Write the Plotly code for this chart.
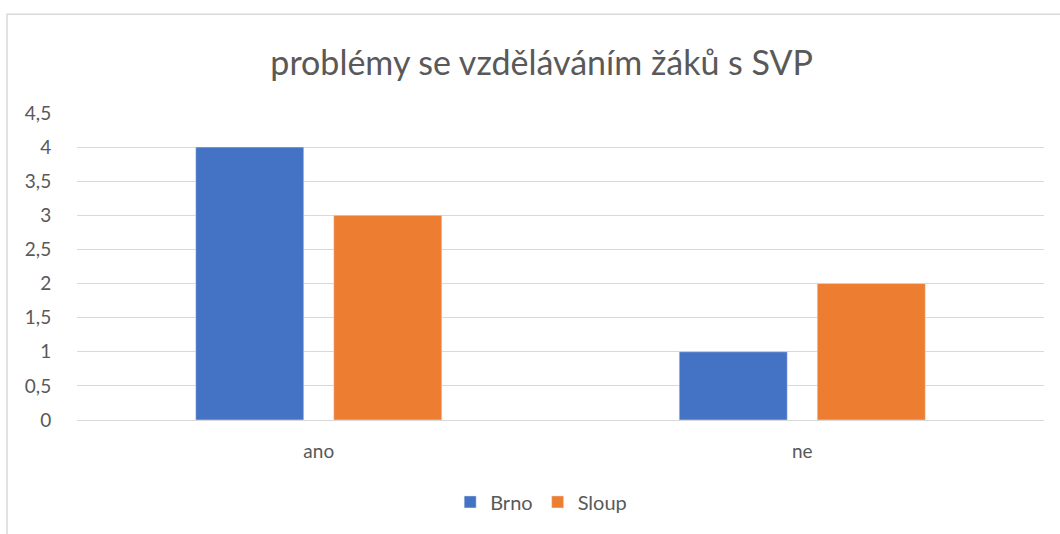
import plotly.graph_objects as go

# 数据
categories = ["ano", "ne"]
brno = [4, 1]
sloup = [3, 2]
series_names = ["Brno", "Sloup"]
title_text = "problémy se vzděláváním žáků s SVP"

FONT = "Lato, Open Sans, sans-serif"
GRAY = "#595959"
GRID = "#d9d9d9"

fig = go.Figure()
fig.add_trace(go.Bar(x=categories, y=brno, name=series_names[0], marker_color="#4472C4"))
fig.add_trace(go.Bar(x=categories, y=sloup, name=series_names[1], marker_color="#ED7D31"))

W, H = 1060, 534
L, R, T, B = 77, 16, 113, 110
pw, ph = W - L - R, H - T - B

fig.update_layout(
    width=W, height=H,
    margin=dict(l=L, r=R, t=T, b=B),
    paper_bgcolor="white", plot_bgcolor="white",
    separators=", ",
    barmode="group", bargap=0.429, bargroupgap=0.217,
    title=dict(text=title_text, x=0.511, xanchor="center",
               y=1 - 63 / H, yanchor="middle",
               font=dict(family=FONT, size=34, color=GRAY)),
    legend=dict(orientation="h", x=0.48, xanchor="center",
                y=(ph - (507 - T)) / ph, yanchor="middle",
                font=dict(family=FONT, size=20, color=GRAY),
                itemwidth=30, tracegroupgap=0),
    font=dict(family=FONT, color=GRAY),
    showlegend=True,
)
fig.update_yaxes(range=[0, 4.5], dtick=0.5, showgrid=True, gridcolor=GRID, gridwidth=1,
                 zeroline=False, showline=False,
                 ticks="outside", ticklen=21, tickcolor="rgba(0,0,0,0)",
                 tickfont=dict(family=FONT, size=19, color=GRAY))
fig.update_xaxes(showline=True, linecolor=GRID, linewidth=1, showgrid=False,
                 ticks="outside", ticklen=14, tickcolor="rgba(0,0,0,0)",
                 tickfont=dict(family=FONT, size=19, color=GRAY))

# 外框
fig.add_shape(type="rect", xref="paper", yref="paper",
              x0=(7 - L) / pw, x1=(W + 20 - L) / pw,
              y0=-(H + 20 - ph - T) / ph, y1=(ph + T - 13) / ph,
              line=dict(color=GRID, width=1.5), fillcolor="rgba(0,0,0,0)", layer="below")

fig.write_html("out.html", config={"displayModeBar": False},
               post_script="document.body.style.margin='0';")
